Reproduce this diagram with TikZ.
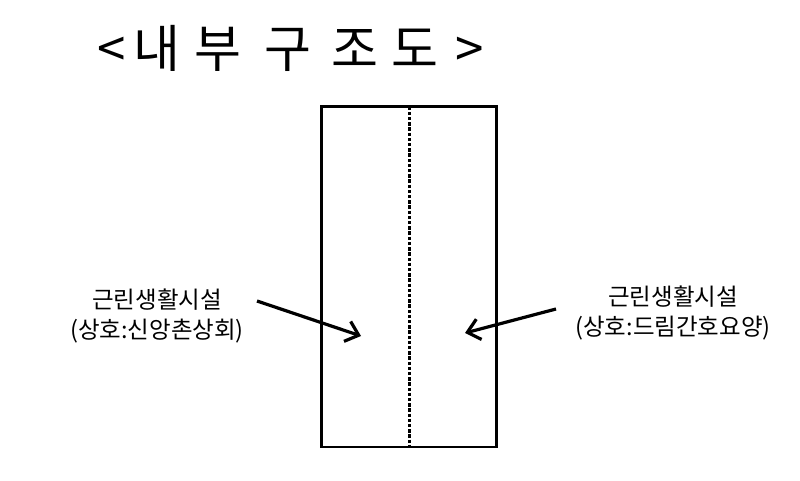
\documentclass[tikz,border=0pt]{standalone}
\usepackage{fontspec}
\setmainfont{Noto Sans CJK KR}
\usetikzlibrary{arrows.meta}
\begin{document}
\begin{tikzpicture}[x=1pt,y=-1pt,
  frame/.style={line width=2.4pt},
  divider/.style={line width=3pt,dash pattern=on 3.4pt off 1.8pt},
  pointer/.style={line width=3.2pt,-{Straight Barb[length=12pt,width=21pt]}},
  label/.style={align=center,inner sep=0pt,font=\fontsize{23.5}{30}\selectfont},
  tg/.style={inner sep=0pt,anchor=west,font=\fontsize{51}{55}\selectfont}]
\useasboundingbox[fill=white] (0,0) rectangle (800,481);
% title
\node[tg] (title) at (92,48) {\makebox[39.5pt]{<}\makebox[51pt]{내}\makebox[70.5pt]{부}\makebox[70.5pt]{구}\makebox[63pt]{조}\makebox[57pt]{도}\makebox[51pt]{>}};
% building
\node[draw,frame,minimum width=175pt,minimum height=340pt,inner sep=0pt] (bld) at (408.8,276.7) {};
\coordinate (dtop) at (409,106.7);
\coordinate (dbot) at (409,446.7);
\draw[divider] (dtop) -- (dbot);
% labels
\node[label] (ltxt) at (157,316) {근린생활시설\\(상호:신앙촌상회)};
\node[label] (rtxt) at (673,313) {근린생활시설\\(상호:드림간호요양)};
% arrows
\coordinate (la) at (257,301);
\coordinate (lb) at (361,336);
\coordinate (ra) at (556,309);
\coordinate (rb) at (465,333);
\draw[pointer] (la) -- (lb);
\draw[pointer] (ra) -- (rb);
\end{tikzpicture}
\end{document}
